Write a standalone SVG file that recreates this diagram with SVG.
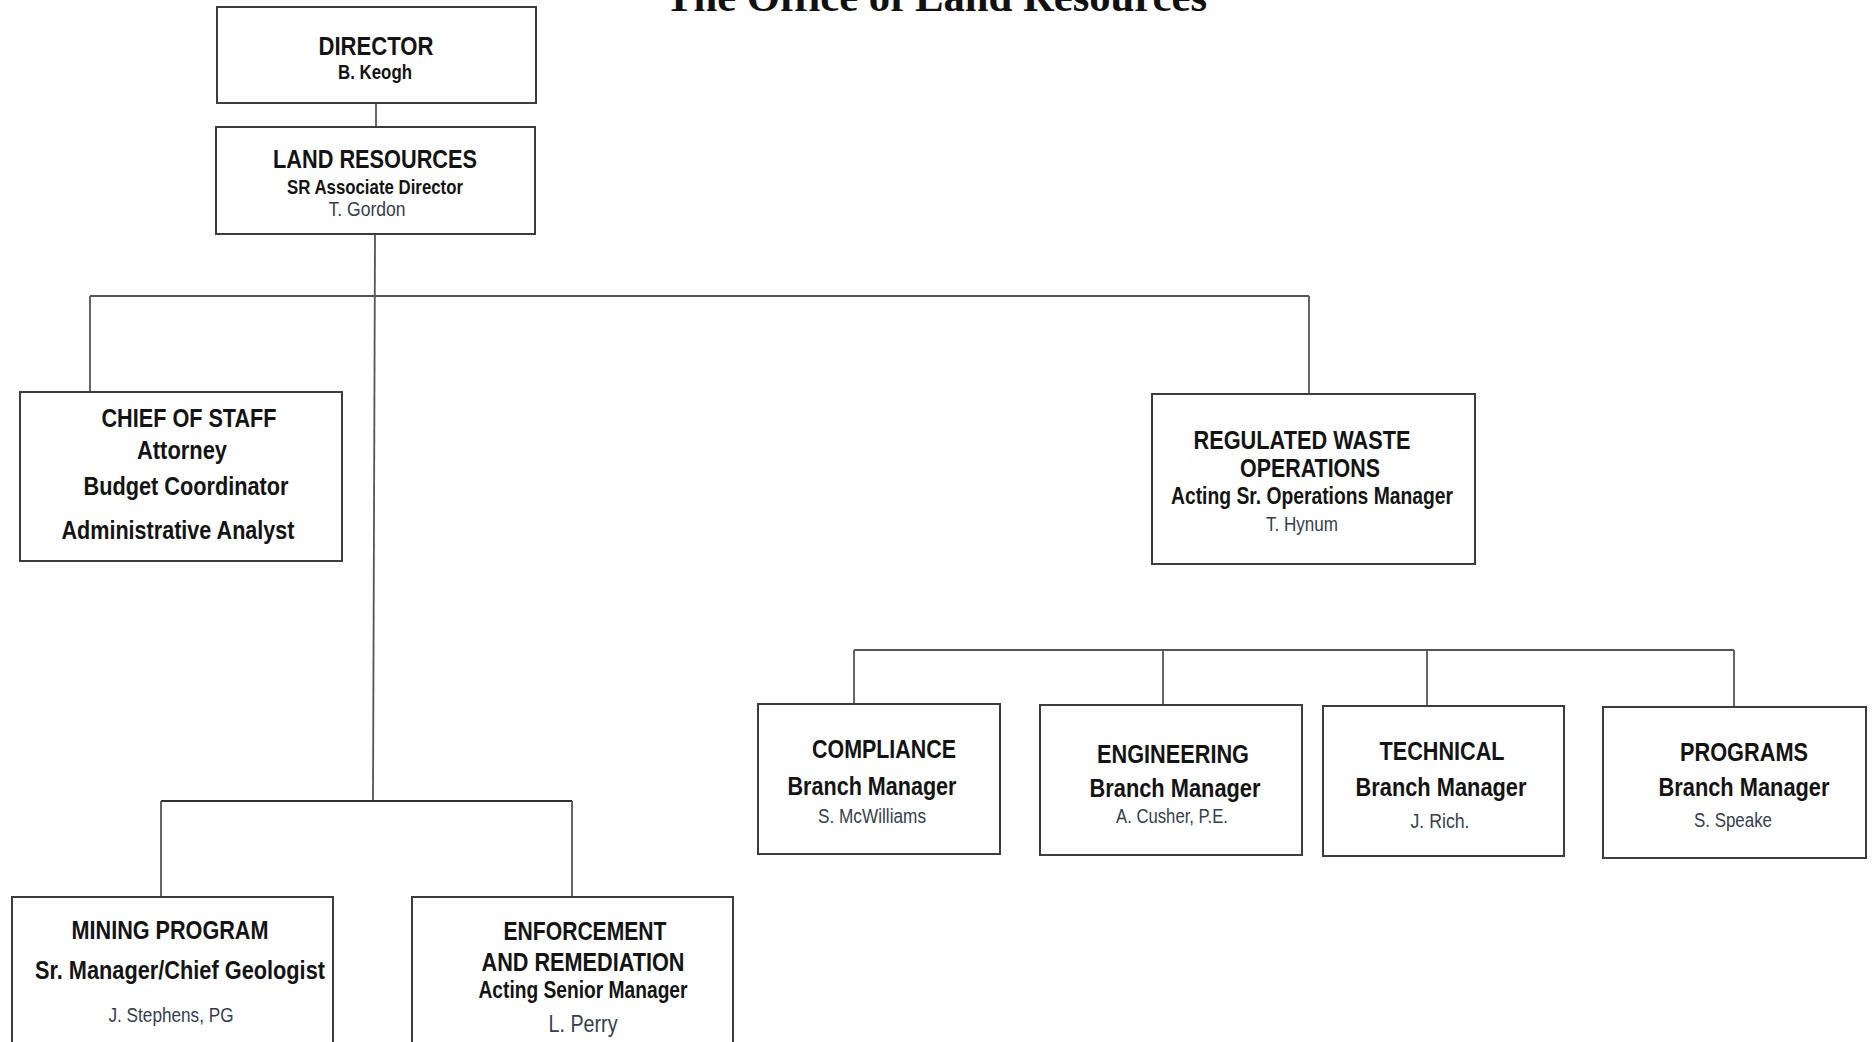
<svg xmlns="http://www.w3.org/2000/svg" width="1873" height="1042" viewBox="0 0 1873 1042">
<style>
.box{fill:#fff;stroke:#3c3c3c;stroke-width:2}
.ln{stroke:#555;stroke-width:1.8;fill:none}
text{font-family:"Liberation Sans Narrow","Liberation Sans",Arial,sans-serif;text-anchor:middle;fill:#141414}
.h{font-size:26.5px;font-weight:bold}
.s{font-size:20.5px;font-weight:bold}
.m{font-size:24px;font-weight:bold}
.n{font-size:20.5px;fill:#33404c}
.title{font-family:"Liberation Serif","Times New Roman",serif;font-size:43px;font-weight:bold;fill:#111}
</style>
<rect width="1873" height="1042" fill="#fff"/>
<text class="title" x="936" y="11" textLength="542" lengthAdjust="spacingAndGlyphs">The Office of Land Resources</text>

<g id="connectors">
<line class="ln" x1="376" y1="103" x2="376" y2="127"/>
<line class="ln" x1="375" y1="234" x2="373" y2="801"/>
<line class="ln" x1="90" y1="296" x2="1309" y2="296"/>
<line class="ln" x1="90" y1="296" x2="90" y2="391"/>
<line class="ln" x1="1309" y1="296" x2="1309" y2="394"/>
<line class="ln" x1="854" y1="650" x2="1734" y2="650"/>
<line class="ln" x1="854" y1="650" x2="854" y2="704"/>
<line class="ln" x1="1163" y1="650" x2="1163" y2="705"/>
<line class="ln" x1="1427" y1="650" x2="1427" y2="706"/>
<line class="ln" x1="1734" y1="650" x2="1734" y2="707"/>
<line class="ln" x1="161" y1="801" x2="572" y2="801" style="stroke:#333;stroke-width:2.2"/>
<line class="ln" x1="161" y1="801" x2="161" y2="897"/>
<line class="ln" x1="572" y1="801" x2="572" y2="897"/>
</g>

<g id="director">
<rect class="box" x="217" y="7" width="319" height="96"/>
<text class="h" x="376" y="55" textLength="115" lengthAdjust="spacingAndGlyphs">DIRECTOR</text>
<text class="s" x="375" y="79" textLength="74" lengthAdjust="spacingAndGlyphs">B. Keogh</text>
</g>

<g id="land-resources">
<rect class="box" x="216" y="127" width="319" height="107"/>
<text class="h" x="375" y="168" textLength="204" lengthAdjust="spacingAndGlyphs">LAND RESOURCES</text>
<text class="s" x="375" y="194" textLength="176" lengthAdjust="spacingAndGlyphs">SR Associate Director</text>
<text class="n" x="367" y="216" textLength="77" lengthAdjust="spacingAndGlyphs">T. Gordon</text>
</g>

<g id="chief-of-staff">
<rect class="box" x="20" y="392" width="322" height="169"/>
<text class="h" x="189" y="427" textLength="175" lengthAdjust="spacingAndGlyphs">CHIEF OF STAFF</text>
<text class="h" x="182" y="459" textLength="90" lengthAdjust="spacingAndGlyphs">Attorney</text>
<text class="h" x="186" y="495" textLength="205" lengthAdjust="spacingAndGlyphs">Budget Coordinator</text>
<text class="h" x="178" y="539" textLength="233" lengthAdjust="spacingAndGlyphs">Administrative Analyst</text>
</g>

<g id="regulated-waste">
<rect class="box" x="1152" y="394" width="323" height="170"/>
<text class="h" x="1302" y="449" textLength="217" lengthAdjust="spacingAndGlyphs">REGULATED WASTE</text>
<text class="h" x="1310" y="477" textLength="140" lengthAdjust="spacingAndGlyphs">OPERATIONS</text>
<text class="m" x="1312" y="504" textLength="282" lengthAdjust="spacingAndGlyphs">Acting Sr. Operations Manager</text>
<text class="n" x="1302" y="531" textLength="72" lengthAdjust="spacingAndGlyphs">T. Hynum</text>
</g>

<g id="compliance">
<rect class="box" x="758" y="704" width="242" height="150"/>
<text class="h" x="884" y="758" textLength="144" lengthAdjust="spacingAndGlyphs">COMPLIANCE</text>
<text class="h" x="872" y="795" textLength="169" lengthAdjust="spacingAndGlyphs">Branch Manager</text>
<text class="n" x="872" y="823" textLength="108" lengthAdjust="spacingAndGlyphs">S. McWilliams</text>
</g>

<g id="engineering">
<rect class="box" x="1040" y="705" width="262" height="150"/>
<text class="h" x="1173" y="763" textLength="152" lengthAdjust="spacingAndGlyphs">ENGINEERING</text>
<text class="h" x="1175" y="797" textLength="171" lengthAdjust="spacingAndGlyphs">Branch Manager</text>
<text class="n" x="1172" y="823" textLength="112" lengthAdjust="spacingAndGlyphs">A. Cusher, P.E.</text>
</g>

<g id="technical">
<rect class="box" x="1323" y="706" width="241" height="150"/>
<text class="h" x="1442" y="760" textLength="125" lengthAdjust="spacingAndGlyphs">TECHNICAL</text>
<text class="h" x="1441" y="796" textLength="171" lengthAdjust="spacingAndGlyphs">Branch Manager</text>
<text class="n" x="1440" y="828" textLength="59" lengthAdjust="spacingAndGlyphs">J. Rich.</text>
</g>

<g id="programs">
<rect class="box" x="1603" y="707" width="263" height="151"/>
<text class="h" x="1744" y="761" textLength="128" lengthAdjust="spacingAndGlyphs">PROGRAMS</text>
<text class="h" x="1744" y="796" textLength="171" lengthAdjust="spacingAndGlyphs">Branch Manager</text>
<text class="n" x="1733" y="827" textLength="78" lengthAdjust="spacingAndGlyphs">S. Speake</text>
</g>

<g id="mining-program">
<rect class="box" x="12" y="897" width="321" height="160"/>
<text class="h" x="170" y="939" textLength="197" lengthAdjust="spacingAndGlyphs">MINING PROGRAM</text>
<text class="h" x="180" y="979" textLength="290" lengthAdjust="spacingAndGlyphs">Sr. Manager/Chief Geologist</text>
<text class="n" x="171" y="1022" textLength="125" lengthAdjust="spacingAndGlyphs">J. Stephens, PG</text>
</g>

<g id="enforcement">
<rect class="box" x="412" y="897" width="321" height="160"/>
<text class="h" x="585" y="940" textLength="163" lengthAdjust="spacingAndGlyphs">ENFORCEMENT</text>
<text class="h" x="583" y="971" textLength="203" lengthAdjust="spacingAndGlyphs">AND REMEDIATION</text>
<text class="m" x="583" y="998" textLength="209" lengthAdjust="spacingAndGlyphs">Acting Senior Manager</text>
<text class="n" x="583" y="1032" style="font-size:24px" textLength="69" lengthAdjust="spacingAndGlyphs">L. Perry</text>
</g>
</svg>
